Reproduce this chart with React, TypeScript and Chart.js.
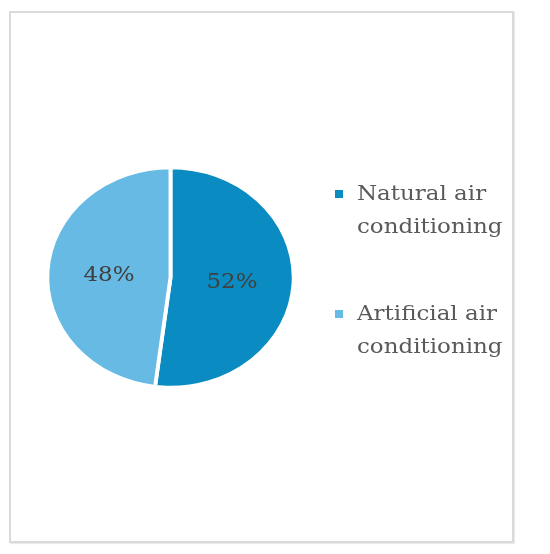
import React, { useEffect, useRef } from "react";
import { Chart, registerables } from "chart.js";

Chart.register(...registerables);

const categories = ["Natural air conditioning", "Artificial air conditioning"];
const legendLines = [
  ["Natural air", "conditioning"],
  ["Artificial air", "conditioning"],
];
const shares = [52, 48];
const sliceColors = ["#0a8cc2", "#66bae3"];

const SX = 1.12; // horizontal stretch of the reference picture
const FONT = "DejaVu Serif";

export default function App() {
  const ref = useRef<HTMLCanvasElement>(null);

  useEffect(() => {
    if (!ref.current) return;

    const stretch = {
      id: "stretch",
      beforeDraw(chart: any) {
        chart.ctx.save();
        chart.ctx.scale(SX, 1);
      },
      afterDraw(chart: any) {
        chart.ctx.restore();
      },
    };

    const labelsPlugin = {
      id: "labelsAndLegend",
      afterDatasetsDraw(chart: any) {
        const ctx = chart.ctx;
        const meta = chart.getDatasetMeta(0);
        const data = chart.data.datasets[0].data as number[];
        const total = data.reduce((a: number, b: number) => a + b, 0);
        ctx.save();
        ctx.font = `20.5px "${FONT}"`;
        ctx.fillStyle = "#404040";
        ctx.textAlign = "center";
        ctx.textBaseline = "middle";
        meta.data.forEach((arc: any, i: number) => {
          const p = arc.getCenterPoint();
          ctx.fillText(Math.round((data[i] / total) * 100) + "%", p.x, p.y + 2);
        });

        // legend
        const markerX = 335 / SX;
        const textX = 357 / SX;
        const markerTops = [190, 310];
        const baselines = [200, 320];
        const lineGap = 33;
        ctx.textAlign = "left";
        ctx.textBaseline = "alphabetic";
        legendLines.forEach((lines, i) => {
          ctx.fillStyle = sliceColors[i];
          ctx.fillRect(markerX, markerTops[i], 8 / SX, 8);
          ctx.fillStyle = "#595959";
          lines.forEach((t, j) => {
            ctx.fillText(t, textX, baselines[i] + j * lineGap);
          });
        });
        ctx.restore();
      },
    };

    const chart = new Chart(ref.current, {
      type: "pie",
      data: {
        labels: categories,
        datasets: [
          {
            data: shares,
            backgroundColor: sliceColors,
            borderColor: "#ffffff",
            borderWidth: 3.5,
            radius: 110,
            hoverOffset: 0,
          },
        ],
      },
      options: {
        animation: false,
        responsive: false,
        events: [],
        layout: {
          padding: { left: 0, top: 1, bottom: 0, right: 550 - 2 * (170.5 / SX) },
        },
        plugins: {
          legend: { display: false },
          tooltip: { enabled: false },
        },
      },
      plugins: [stretch, labelsPlugin],
    });
    return () => chart.destroy();
  }, []);

  return (
    <div
      style={{
        position: "absolute",
        left: 0,
        top: 0,
        width: 550,
        height: 554,
        background: "#ffffff",
      }}
    >
      <div
        style={{
          position: "absolute",
          left: 9,
          top: 11,
          width: 505,
          height: 532,
          boxSizing: "border-box",
          border: "2px solid #dadada",
          boxShadow: "1px 1px 1px rgba(0,0,0,0.08)",
        }}
      />
      <canvas
        ref={ref}
        width={550}
        height={554}
        style={{ position: "absolute", left: 0, top: 0, width: 550, height: 554 }}
      />
    </div>
  );
}
